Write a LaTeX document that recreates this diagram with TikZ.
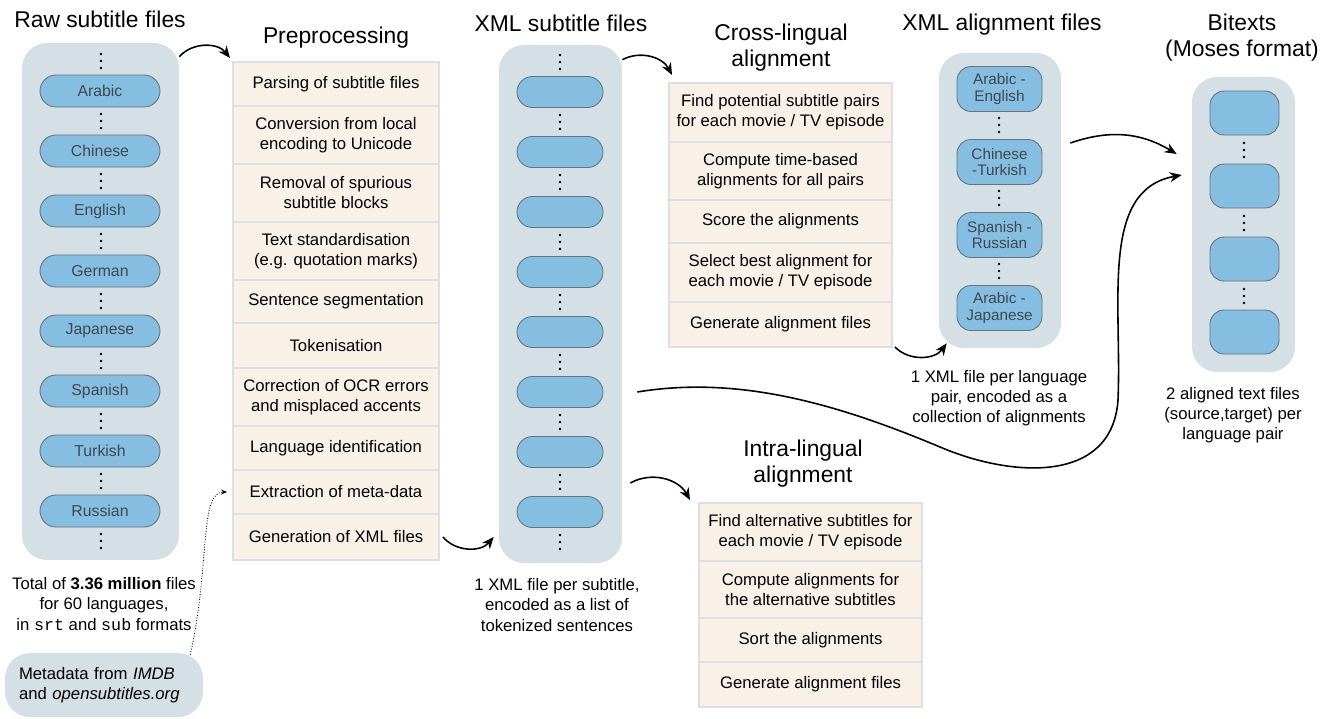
\documentclass[tikz,border=0pt]{standalone}
\usepackage{fontspec}
\setmainfont{Liberation Sans}
\setmonofont{Liberation Mono}
\usetikzlibrary{arrows.meta,positioning,shapes.misc}

\definecolor{boxbg}{RGB}{212,223,230}
\definecolor{pillfill}{RGB}{133,190,224}
\definecolor{pillline}{RGB}{105,115,125}
\definecolor{pilltext}{RGB}{62,72,82}
\definecolor{rowfill}{RGB}{249,240,232}
\definecolor{rowline}{RGB}{221,224,227}

\tikzset{
  heading/.style={font=\fontsize{13}{14.8}\selectfont, align=center, inner sep=0pt},
  note/.style={font=\fontsize{9.5}{11.4}\selectfont, align=center, inner sep=0pt},
  holder/.style={fill=boxbg, rounded corners=0.5cm, inner sep=0pt},
  pill/.style={rounded rectangle, draw=pillline, fill=pillfill, line width=0.5pt,
    inner sep=0pt, font=\fontsize{9}{10}\selectfont, text=pilltext},
  pairbox/.style={rectangle, rounded corners=0.28cm, draw=pillline, fill=pillfill,
    line width=0.5pt, inner sep=0pt, align=center, font=\fontsize{8.7}{9.2}\selectfont, text=pilltext},
  stage/.style={rectangle, draw=rowline, fill=rowfill, line width=1pt, outer sep=0pt,
    inner sep=0pt, align=center, font=\fontsize{9.5}{11.4}\selectfont},
  flow/.style={-{Stealth[length=0.24cm,width=0.2cm]}, line width=0.9pt},
  dotflow/.style={-{Stealth[length=0.12cm,width=0.1cm]}, densely dotted, line width=0.5pt},
  ellip/.pic={\foreach \d in {-7,0,7} \fill (0,\d) circle (0.027cm);}
}

\begin{document}
\begin{tikzpicture}[x=0.02cm, y=-0.02cm]
  \useasboundingbox (0,0) rectangle (1335,718);

  % raw subtitle files
  \node[heading, anchor=base] (rawtitle) at (100,27) {Raw subtitle files};
  \node[holder, minimum width=3.14cm, minimum height=10.34cm] (rawbox) at (100.5,301.5) {};
  \foreach \lang [count=\i] in {Arabic,Chinese,English,German,Japanese,Spanish,Turkish,Russian}
    \node[pill, minimum width=2.4cm, minimum height=0.64cm] (rp\i) at (100,31+60*\i) {\lang};
  \foreach \i in {0,...,8} \pic at (101,61+60*\i) {ellip};
  \node[note] (rawnote) at (104,604) {Total of \textbf{3.36 million} files\\for 60 languages,\\in \texttt{srt} and \texttt{sub} formats};
  \node[holder, minimum height=1.28cm, text width=3.4cm, inner xsep=0.28cm, align=left,
    font=\fontsize{9.5}{11.4}\selectfont] (meta) at (104,685) {Metadata from \textit{IMDB}\\and \textit{opensubtitles.org}};

  % preprocessing
  \node[heading, anchor=base] (pretitle) at (336,43) {Preprocessing};
  \coordinate (pre0) at (336,62);
  \foreach \h/\txt [count=\i, remember=\i as \j (initially 0)] in {
      44/{Parsing of subtitle files},
      58/{Conversion from local\\encoding to Unicode},
      58/{Removal of spurious\\subtitle blocks},
      58/{Text standardisation\\(e.g. quotation marks)},
      43/{Sentence segmentation},
      45/{Tokenisation},
      58/{Correction of OCR errors\\and misplaced accents},
      44/{Language identification},
      44/{Extraction of meta-data},
      46/{Generation of XML files}}
    \node[stage, minimum width=4.12cm, minimum height=\h*0.02cm, below=0pt of pre\j] (pre\i) {\txt};

  % xml subtitle files
  \node[heading, anchor=base] (xmltitle) at (561,31) {XML subtitle files};
  \node[holder, minimum width=2.46cm, minimum height=10.36cm] (xmlbox) at (560.5,304) {};
  \foreach \i in {1,...,8}
    \node[pill, minimum width=1.72cm, minimum height=0.62cm] (xp\i) at (560,32+60*\i) {};
  \foreach \i in {0,...,8} \pic at (560,62+60*\i) {ellip};
  \node[note] (xmlnote) at (557,605) {1 XML file per subtitle,\\encoded as a list of\\tokenized sentences};

  % cross-lingual alignment
  \node[heading] (crosstitle) at (781,48) {Cross-lingual\\alignment};
  \coordinate (cross0) at (780.5,83);
  \foreach \h/\txt [count=\i, remember=\i as \j (initially 0)] in {
      59/{Find potential subtitle pairs\\for each movie / TV episode},
      58/{Compute time-based\\alignments for all pairs},
      43/{Score the alignments},
      59/{Select best alignment for\\each movie / TV episode},
      45/{Generate alignment files}}
    \node[stage, minimum width=4.46cm, minimum height=\h*0.02cm, below=0pt of cross\j] (cross\i) {\txt};

  % intra-lingual alignment
  \node[heading] (intratitle) at (803,464) {Intra-lingual\\alignment};
  \coordinate (intra0) at (810.5,503);
  \foreach \h/\txt [count=\i, remember=\i as \j (initially 0)] in {
      58/{Find alternative subtitles for\\each movie / TV episode},
      57/{Compute alignments for\\the alternative subtitles},
      44/{Sort the alignments},
      45/{Generate alignment files}}
    \node[stage, minimum width=4.46cm, minimum height=\h*0.02cm, below=0pt of intra\j] (intra\i) {\txt};

  % xml alignment files
  \node[heading, anchor=base] (aligntitle) at (1002,30) {XML alignment files};
  \node[holder, minimum width=2.44cm, minimum height=5.9cm] (alignbox) at (1000,200.5) {};
  \foreach \pair [count=\i] in {{Arabic -\\English},{Chinese\\-Turkish},{Spanish -\\Russian},{Arabic -\\Japanese}}
    \node[pairbox, minimum width=1.7cm, minimum height=0.9cm] (ap\i) at (999.5,16+73*\i) {\pair};
  \foreach \i in {1,2,3} \pic at (999,52+73*\i) {ellip};
  \node[note] (alignnote) at (999,398) {1 XML file per language\\pair, encoded as a\\collection of alignments};

  % bitexts
  \node[heading] (bittitle) at (1242,38) {Bitexts\\(Moses format)};
  \node[holder, minimum width=2.06cm, minimum height=5.9cm] (bitbox) at (1243.5,224.5) {};
  \foreach \i in {1,...,4}
    \node[pairbox, minimum width=1.38cm, minimum height=0.88cm] (bp\i) at (1244.5,40+73*\i) {};
  \foreach \i in {1,2,3} \pic at (1244,77+73*\i) {ellip};
  \node[note] (bitnote) at (1233,415) {2 aligned text files\\(source,target) per\\language pair};

  % arrows
  \draw[flow] ([yshift=-0.28cm]rawbox.north east) to[bend left=50] ([xshift=-0.06cm,yshift=0.08cm]pre1.north west);
  \draw[dotflow] ([xshift=-0.26cm,yshift=-0.04cm]meta.north east) .. controls +(20,-90) and +(-28,0) .. ([xshift=-0.12cm]pre9.west);
  \draw[flow] ([xshift=0.08cm]pre10.east) to[bend right=50] ([xshift=-0.1cm,yshift=-4.66cm]xmlbox.west);
  \draw[flow] ([yshift=-0.3cm]xmlbox.north east) to[bend left=45] ([xshift=0.06cm,yshift=0.16cm]cross1.north west);
  \draw[flow] ([xshift=0.16cm,yshift=-3.58cm]xmlbox.east) to[bend left=45] ([xshift=-0.18cm,yshift=0.06cm]intra1.north west);
  \draw[flow] ([xshift=0.06cm]cross5.south east) to[bend right=50] ([xshift=0.16cm,yshift=0.1cm]alignbox.south west);
  \draw[flow] ([xshift=0.18cm,yshift=1.15cm]alignbox.east) to[bend left=25] ([xshift=-0.3cm,yshift=1.41cm]bitbox.west);
  \draw[flow] ([xshift=0.3cm,yshift=-1.76cm]xmlbox.east) .. controls (740,375) and (840,405) .. (940,447)
    .. controls (1010,477) and (1112,485) .. (1118,400)
    .. controls (1122,300) and (1100,190) .. ([xshift=-0.2cm,yshift=0.99cm]bitbox.west);
\end{tikzpicture}
\end{document}
